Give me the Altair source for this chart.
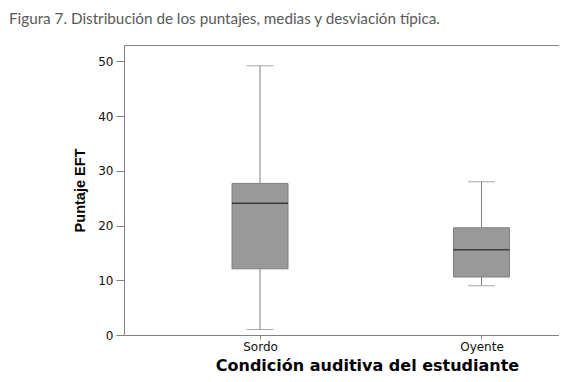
import altair as alt
import pandas as pd

categories = ["Sordo", "Oyente"]
mins = [1.0, 9.0]
q1s = [12.1, 10.6]
medians = [24.1, 15.6]
q3s = [27.7, 19.6]
maxs = [49.2, 28.0]
y_ticks = [0, 10, 20, 30, 40, 50]

df = pd.DataFrame({"cond": categories, "mn": mins, "q1": q1s, "med": medians,
                   "q3": q3s, "mx": maxs})

xscale = alt.Scale(type="point", domain=categories, padding=0.482, align=0.637)
yscale = alt.Scale(domain=[0, 53], nice=False, zero=True)

x_enc = alt.X("cond:N", scale=xscale, sort=categories,
              axis=alt.Axis(title="Condición auditiva del estudiante", labelAngle=0,
                            tickSize=4, tickColor="#808080", labelPadding=2,
                            labelFont="DejaVu Sans", labelFontSize=12,
                            labelColor="#111111", domain=False,
                            titleFont="DejaVu Sans", titleFontSize=16,
                            titleFontWeight="bold", titleColor="#000000",
                            titleX=243, titleY=35, titleAlign="center",
                            titleBaseline="alphabetic"))

y_axis = alt.Axis(title="Puntaje EFT", values=y_ticks, grid=False, domain=False,
                  tickSize=8, tickColor="#808080", labelPadding=3,
                  labelFont="DejaVu Sans", labelFontSize=12, labelColor="#111111",
                  titleFont="Liberation Sans", titleFontSize=14.5, titleFontWeight="bold",
                  titleColor="#000000", titleX=-43.5, titleY=145, titleAngle=270,
                  titleAlign="center", titleBaseline="middle")

base = alt.Chart(df)

whisker = base.mark_rule(color="#808080", strokeWidth=1).encode(
    x=x_enc, y=alt.Y("mn:Q", scale=yscale, axis=y_axis), y2="mx:Q")

box = base.mark_bar(size=56, color="#999999", stroke="#7f7f7f", strokeWidth=1).encode(
    x=alt.X("cond:N", scale=xscale, sort=categories),
    y=alt.Y("q1:Q", scale=yscale), y2="q3:Q")

median = base.mark_tick(size=56, thickness=1.5, color="#111111").encode(
    x=alt.X("cond:N", scale=xscale, sort=categories),
    y=alt.Y("med:Q", scale=yscale))

cap_lo = base.mark_tick(size=27, thickness=1, color="#808080").encode(
    x=alt.X("cond:N", scale=xscale, sort=categories),
    y=alt.Y("mn:Q", scale=yscale))

cap_hi = base.mark_tick(size=27, thickness=1, color="#808080").encode(
    x=alt.X("cond:N", scale=xscale, sort=categories),
    y=alt.Y("mx:Q", scale=yscale))

chart = alt.layer(whisker, box, median, cap_lo, cap_hi).properties(
    width=435, height=290,
    autosize=alt.AutoSizeParams(type="none"),
    padding={"left": 116, "top": 37, "right": 0, "bottom": 39},
    title=alt.TitleParams(
        text="Figura 7. Distribución de los puntajes, medias y desviación típica.",
        anchor="start", dx=-63.5, offset=6, baseline="alphabetic",
        font="Lato", fontSize=15.25, fontWeight="normal", color="#595959"),
).configure_view(stroke="#808080", strokeWidth=1)

chart.save("out.html", embed_options={"renderer": "svg", "actions": False})
